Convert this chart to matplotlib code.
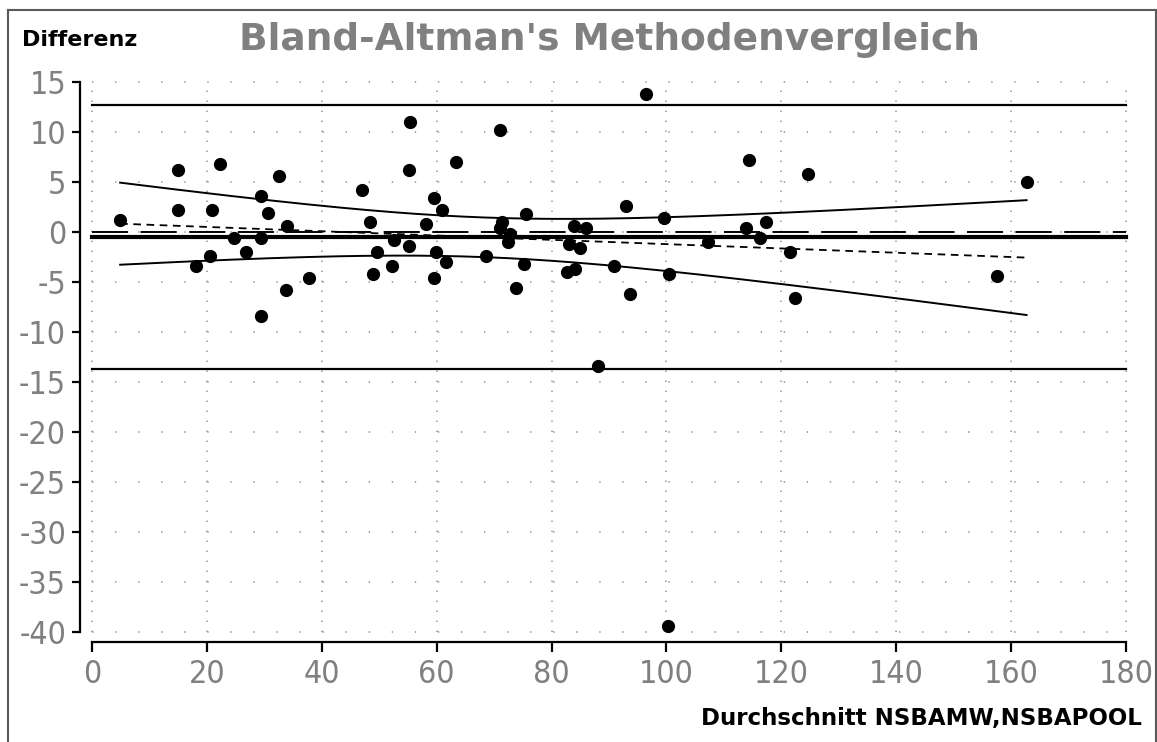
import matplotlib
matplotlib.use("Agg")
import matplotlib.pyplot as plt
import numpy as np

plt.rcParams["axes.unicode_minus"] = False
plt.rcParams["lines.scale_dashes"] = False

# mean of both methods (x) and their difference (y)
avg = np.array([4.9, 14.9, 14.9, 22.3, 20.9, 18.1, 20.5, 32.6, 29.5, 30.6,
                33.9, 24.7, 29.5, 26.8, 33.8, 29.5, 37.7, 47.0, 48.4, 49.7,
                48.9, 52.6, 52.2, 55.1, 55.1, 55.4, 58.1, 59.5, 61.0, 59.9,
                61.6, 59.5, 63.4, 71.0, 75.6, 71.3, 71.0, 72.7, 72.5, 68.6,
                75.2, 73.9, 83.9, 86.0, 83.1, 85.0, 82.7, 84.0, 90.9, 93.0,
                93.7, 99.6, 100.5, 88.1, 107.3, 114.3, 113.9, 117.3, 116.3, 124.7,
                121.5, 122.3, 162.7, 157.5, 96.5, 100.3])
diff = np.array([1.2, 6.2, 2.2, 6.8, 2.2, -3.4, -2.4, 5.6, 3.6, 1.9,
                 0.6, -0.6, -0.6, -2.0, -5.8, -8.4, -4.6, 4.2, 1.0, -2.0,
                 -4.2, -0.8, -3.4, -1.4, 6.2, 11.0, 0.8, 3.4, 2.2, -2.0,
                 -3.0, -4.6, 7.0, 10.2, 1.8, 1.0, 0.4, -0.2, -1.0, -2.4,
                 -3.2, -5.6, 0.6, 0.4, -1.2, -1.6, -4.0, -3.7, -3.4, 2.6,
                 -6.2, 1.4, -4.2, -13.4, -1.0, 7.2, 0.4, 1.0, -0.6, 5.8,
                 -2.0, -6.6, 5.0, -4.4, 13.8, -39.4])

xticks = [0, 20, 40, 60, 80, 100, 120, 140, 160, 180]
yticks = [15, 10, 5, 0, -5, -10, -15, -20, -25, -30, -35, -40]

# bias and limits of agreement
bias = diff.mean()
sd = diff.std(ddof=1)
upper = bias + 1.96 * sd
lower = bias - 1.96 * sd

# regression of difference on mean, with confidence band
n = len(avg)
slope, icpt = np.polyfit(avg, diff, 1)
resid = diff - (icpt + slope * avg)
s = np.sqrt(np.sum(resid ** 2) / (n - 2))
sxx = np.sum((avg - avg.mean()) ** 2)
t = 2.386
xs = np.linspace(avg.min(), avg.max(), 200)
ys = icpt + slope * xs
half = t * s * np.sqrt(1 / n + (xs - avg.mean()) ** 2 / sxx)

fig = plt.figure(figsize=(11.57, 7.42), dpi=100)
ax = fig.add_axes([0.06914, 0.13477, 0.9090, 0.76146])

grey = "#808080"
for xv in xticks:
    ax.plot([xv, xv], [-40, 15], color="#9a9a9a", lw=1.2,
            ls=(0, (1.0, 6.2)), zorder=1)
for yv in yticks:
    ax.plot([0, 180], [yv, yv], color="#9a9a9a", lw=1.2,
            ls=(0, (1.0, 15.6)), zorder=1)

ax.plot([0, 180], [0, 0], color="black", lw=1.4, ls=(0, (26, 9)), zorder=2)
ax.plot([0, 180], [bias, bias], color="black", lw=3.0, zorder=2)
ax.plot([0, 180], [upper, upper], color="black", lw=1.6, zorder=2)
ax.plot([0, 180], [lower, lower], color="black", lw=1.6, zorder=2)

ax.plot(xs, ys, color="black", lw=1.3, ls=(0, (5.5, 4)), zorder=2)
ax.plot(xs, ys + half, color="black", lw=1.4, zorder=2)
ax.plot(xs, ys - half, color="black", lw=1.4, zorder=2)

ax.plot(avg, diff, "o", color="black", ms=8.5, zorder=3)

ax.set_xlim(-2.09, 181)
ax.set_ylim(-41.05, 15.5)
ax.spines["top"].set_visible(False)
ax.spines["right"].set_visible(False)
ax.spines["left"].set_bounds(-40, 15)
ax.spines["bottom"].set_bounds(0, 180)
ax.spines["left"].set_linewidth(1.6)
ax.spines["bottom"].set_linewidth(1.6)

ax.set_xticks(xticks)
ax.set_yticks(yticks)
ax.set_xticklabels([str(v) for v in xticks])
ax.set_yticklabels([str(v) for v in yticks])
ax.tick_params(axis="y", length=6, width=1.6, pad=4, labelcolor=grey,
               labelsize=23)
ax.tick_params(axis="x", length=7, width=1.6, pad=5, labelcolor=grey,
               labelsize=23)
for lab in ax.get_xticklabels() + ax.get_yticklabels():
    lab.set_fontfamily("DejaVu Sans")
    lab.set_fontstretch("condensed")
    lab.set_fontweight("light")

fig.text(609 / 1157, 1 - 40 / 742, "Bland-Altman's Methodenvergleich",
         color=grey, fontsize=27, fontweight="bold", family="DejaVu Sans",
         ha="center", va="center")
fig.text(22 / 1157, 1 - 40 / 742, "Differenz", color="black", fontsize=16,
         fontweight="bold", family="DejaVu Sans", ha="left", va="center")
fig.text(1142 / 1157, 1 - 718 / 742, "Durchschnitt NSBAMW,NSBAPOOL",
         color="black", fontsize=16.5, fontweight="bold", family="DejaVu Sans",
         ha="right", va="center")

# window frame
frame_c = "#5a5a5a"
fig.add_artist(plt.Line2D([7.5 / 1157, 1155.5 / 1157], [1 - 9.5 / 742] * 2,
                          transform=fig.transFigure, color=frame_c, lw=1.5))
fig.add_artist(plt.Line2D([7.5 / 1157] * 2, [0, 1 - 9.5 / 742],
                          transform=fig.transFigure, color=frame_c, lw=1.5))
fig.add_artist(plt.Line2D([1155.5 / 1157] * 2, [0, 1 - 9.5 / 742],
                          transform=fig.transFigure, color=frame_c, lw=1.5))

fig.savefig("out.png", dpi=100)
